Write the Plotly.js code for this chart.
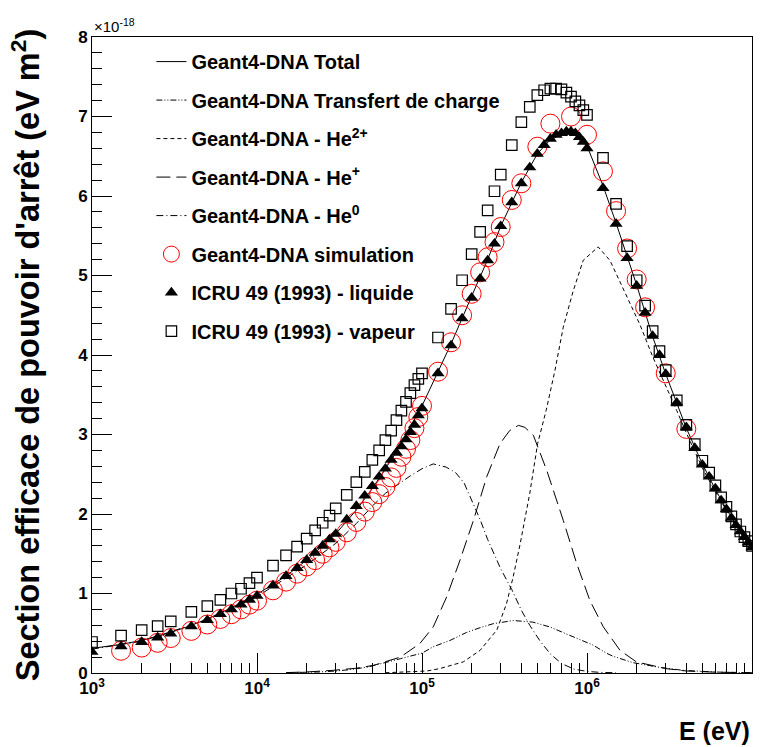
<!DOCTYPE html>
<html>
<head>
<meta charset="utf-8">
<script src="https://cdn.plot.ly/plotly-3.0.1.min.js"></script>
<style>html,body{margin:0;padding:0;background:#fff;}#chart{width:762px;height:747px;}</style>
</head>
<body>
<div id="chart"></div>
<script>
// Energies in keV (converted to eV for plotting); values in units of 1e-18 eV m^2
const icruE = [1,1.5,2,2.5,3,4,5,6,7,8,9,10,
  12.5,15,17.5,20,22.5,25,27.5,30,
  35,40,45,50,55,60,65,70,75,80,85,90,95,100,
  125,150,175,200,225,250,275,300,350,400,450,500,
  550,600,650,700,750,800,850,900,950,1000,
  1250,1500,1750,2000,2250,2500,2750,3000,3500,4000,4500,5000,5500,6000,6500,7000,7500,8000,8500,9000,9500,10000];
const icruLiquid = [0.265,0.335,0.39,0.445,0.495,0.585,0.665,0.74,0.80,0.86,0.92,0.97,
  1.10,1.22,1.32,1.42,1.51,1.60,1.68,1.75,
  1.93,2.10,2.23,2.35,2.47,2.57,2.68,2.77,2.85,2.94,3.03,3.12,3.24,3.33,
  3.77,4.12,4.46,4.72,4.96,5.19,5.40,5.62,5.92,6.16,6.36,6.53,
  6.64,6.72,6.77,6.79,6.81,6.81,6.79,6.74,6.68,6.60,
  6.10,5.65,5.22,4.87,4.53,4.24,4.00,3.76,3.40,3.09,2.83,2.62,2.47,2.32,2.17,2.06,1.95,1.86,1.78,1.71,1.64,1.58];
const icruVapour = [0.39,0.47,0.54,0.59,0.65,0.77,0.84,0.92,1.00,1.06,1.13,1.20,
  1.35,1.48,1.59,1.69,1.795,1.89,1.98,2.07,
  2.24,2.40,2.53,2.68,2.80,2.93,3.05,3.18,3.30,3.41,3.52,3.62,3.70,3.77,
  4.22,4.58,4.94,5.27,5.55,5.82,6.06,6.27,6.64,6.93,7.12,7.27,
  7.33,7.35,7.35,7.34,7.30,7.25,7.19,7.14,7.08,7.02,
  6.48,5.90,5.37,4.94,4.62,4.30,4.05,3.81,3.43,3.12,2.88,2.67,2.52,2.36,2.21,2.09,1.97,1.87,1.78,1.71,1.66,1.60];

const simE = [1.5,2,2.5,3,4,5,6,7,8,9,10,
  12.5,15,17.5,20,22.5,25,27.5,30,
  35,40,45,50,55,60,65,70,75,80,85,90,95,100,
  125,150,175,200,225,250,275,300,350,400,
  500,600,800,1000,
  1250,1500,1750,2000,2250,3000,4000];
const simY = [0.28,0.32,0.38,0.44,0.53,0.61,0.68,0.74,0.80,0.86,0.91,
  1.04,1.15,1.25,1.34,1.42,1.50,1.58,1.65,
  1.77,1.90,2.03,2.15,2.25,2.34,2.46,2.58,2.72,2.82,2.93,3.08,3.22,3.36,
  3.79,4.16,4.50,4.77,5.04,5.23,5.42,5.61,5.95,6.16,
  6.62,6.91,7.00,6.77,
  6.31,5.81,5.34,4.95,4.60,3.77,3.07];

const totE = [1,1.5,2,3,4,5,7,10,15,20,30,40,50,70,100,125,150,200,250,300,400,500,600,700,800,900,1000,1250,1500,2000,2500,3000,4000,5000,6000,7000,8000,9000,10000];
const totY = [0.31,0.36,0.41,0.51,0.60,0.68,0.82,0.99,1.22,1.42,1.75,2.05,2.32,2.78,3.36,3.78,4.14,4.74,5.20,5.62,6.17,6.53,6.71,6.77,6.78,6.74,6.63,6.13,5.66,4.88,4.23,3.76,3.08,2.63,2.31,2.06,1.86,1.70,1.57];

const ctE = [15,20,24,30,37,47,56,74,100,117,148,186,225,270,357,470,594,826,1090,1310,1440,1900,2770,3800,6000,10000];
const ctY = [0.004,0.008,0.013,0.025,0.043,0.075,0.118,0.18,0.25,0.33,0.41,0.51,0.57,0.62,0.66,0.64,0.58,0.45,0.35,0.25,0.21,0.13,0.07,0.034,0.012,0.004];

const he2E = [60,80,107,128,178,225,284,325,357,394,450,502,565,640,718,826,948,1169,1377,1585,1825,2095,2500,3000,3500,4000,5000,6000,7000,8000,9000,10000];
const he2Y = [0.003,0.01,0.025,0.055,0.14,0.285,0.54,0.87,1.21,1.63,2.26,2.885,3.30,3.81,4.35,4.81,5.19,5.36,5.19,4.92,4.65,4.38,3.98,3.62,3.30,3.02,2.58,2.28,2.04,1.84,1.69,1.56];

const he1E = [15,20,29,40,51,74,97,117,141,170,205,247,297,340,384,420,473,570,718,865,1042,1256,1585,1990,3010,4000,6050,10000];
const he1Y = [0.005,0.013,0.034,0.06,0.097,0.20,0.37,0.58,0.956,1.42,1.92,2.47,2.885,3.05,3.115,3.09,2.99,2.55,1.92,1.38,0.91,0.58,0.285,0.14,0.055,0.025,0.01,0.003];

const he0E = [1,2,5,10,20,30,40,50,60,70,85,100,117,140,160,180,205,225,250,300,350,400,450,520,600,700,830,1000,1200,1500];
const he0Y = [0.30,0.40,0.67,0.96,1.36,1.63,1.88,2.10,2.26,2.36,2.48,2.57,2.63,2.59,2.52,2.39,2.12,1.93,1.68,1.31,1.05,0.79,0.60,0.40,0.24,0.12,0.05,0.02,0.008,0.003];

const xTickVals = [1e3,1e4,1e5,1e6,1e7];
const xTickText = ['10<sup>3</sup>','10<sup>4</sup>','10<sup>5</sup>','10<sup>6</sup>','10<sup>7</sup>'];
const yTickVals = [0,1,2,3,4,5,6,7,8];
const yTickText = ['0','1','2','3','4','5','6','7','8'];

const names = ['Geant4-DNA Total','Geant4-DNA Transfert de charge','Geant4-DNA - He<sup>2+</sup>',
  'Geant4-DNA - He<sup>+</sup>','Geant4-DNA - He<sup>0</sup>','Geant4-DNA simulation',
  'ICRU 49 (1993) - liquide','ICRU 49 (1993) - vapeur'];

const keV = a => a.map(v => v*1000);
const minorX = [];
[1e3,1e4,1e5,1e6].forEach(d => { for (let k=2;k<=9;k++) minorX.push(k*d); });

const FONT = 'Liberation Sans, Arial, Helvetica, sans-serif';

function lineTrace(i, xs, ys, dash) {
  return {x: keV(xs), y: ys, type:'scatter', mode:'lines', name: names[i], legendgroup:'g'+i,
    line:{color:'#000', width:1, dash: dash}, hoverinfo:'skip'};
}
const traces = [
  lineTrace(0, totE, totY, 'solid'),
  lineTrace(1, ctE, ctY, '6px,2px,1px,2px,1px,2px'),
  lineTrace(2, he2E, he2Y, '4px,3px'),
  lineTrace(3, he1E, he1Y, '14px,6px'),
  lineTrace(4, he0E, he0Y, '7px,3px,1px,3px'),
  {x: keV(simE), y: simY, type:'scatter', mode:'markers', name: names[5], legendgroup:'g5',
    marker:{symbol:'circle-open', size:19, color:'#ff0000', line:{width:1, color:'#ff0000'}}},
  {x: keV(icruE), y: icruLiquid, type:'scatter', mode:'markers', name: names[6], legendgroup:'g6',
    marker:{symbol:'triangle-up', size:11.5, color:'#000'}},
  {x: keV(icruE), y: icruVapour, type:'scatter', mode:'markers', name: names[7], legendgroup:'g7',
    marker:{symbol:'square-open', size:10.5, color:'#000', line:{width:1.2, color:'#000'}}}
];

const layout = {
  width:762, height:747,
  margin:{l:92, r:10, t:37, b:74, autoexpand:false},
  paper_bgcolor:'#fff', plot_bgcolor:'#fff',
  font:{family:FONT, color:'#000'},
  showlegend:true,
  legend:{x:0.09, y:0.992, xanchor:'left', yanchor:'top', bgcolor:'rgba(0,0,0,0)',
    font:{family:FONT, size:20, weight:'bold', color:'#000'}, traceorder:'grouped',
    tracegroupgap:9.5, itemwidth:30},
  xaxis:{type:'log', range:[3,7], showline:true, linecolor:'#000', linewidth:1, mirror:true,
    showgrid:false, zeroline:false, ticks:'inside', ticklen:20, tickwidth:1, tickcolor:'#000',
    tickmode:'array', tickvals:xTickVals, ticktext:xTickText,
    tickfont:{family:FONT, size:17, weight:'bold', color:'#000'},
    minor:{tickmode:'array', tickvals:minorX, ticks:'inside', ticklen:10, tickwidth:1, tickcolor:'#000', showgrid:false}},
  yaxis:{range:[0,8], showline:true, linecolor:'#000', linewidth:1, mirror:true,
    showgrid:false, zeroline:false, ticks:'inside', ticklen:20, tickwidth:1, tickcolor:'#000',
    tickmode:'array', tickvals:yTickVals, ticktext:yTickText,
    tickfont:{family:FONT, size:17, weight:'bold', color:'#000'},
    minor:{dtick:0.2, ticks:'inside', ticklen:10, tickwidth:1, tickcolor:'#000', showgrid:false},
    title:{text:"Section efficace de pouvoir d'arrêt (eV m<sup>2</sup>)", standoff:28,
      font:{family:FONT, size:32.5, weight:'bold', color:'#000'}}},
  annotations:[
    {xref:'paper', yref:'paper', x:1, y:-0.117, xanchor:'right', yanchor:'bottom', showarrow:false,
     text:'E (eV)', font:{family:FONT, size:25, weight:'bold', color:'#000'}},
    {xref:'paper', yref:'paper', x:0, y:1, xanchor:'left', yanchor:'bottom', showarrow:false,
     text:'×10<sup>-18</sup>', font:{family:FONT, size:15, color:'#000'}}
  ]
};

Plotly.newPlot('chart', traces, layout, {displayModeBar:false, staticPlot:true});
</script>
</body>
</html>
